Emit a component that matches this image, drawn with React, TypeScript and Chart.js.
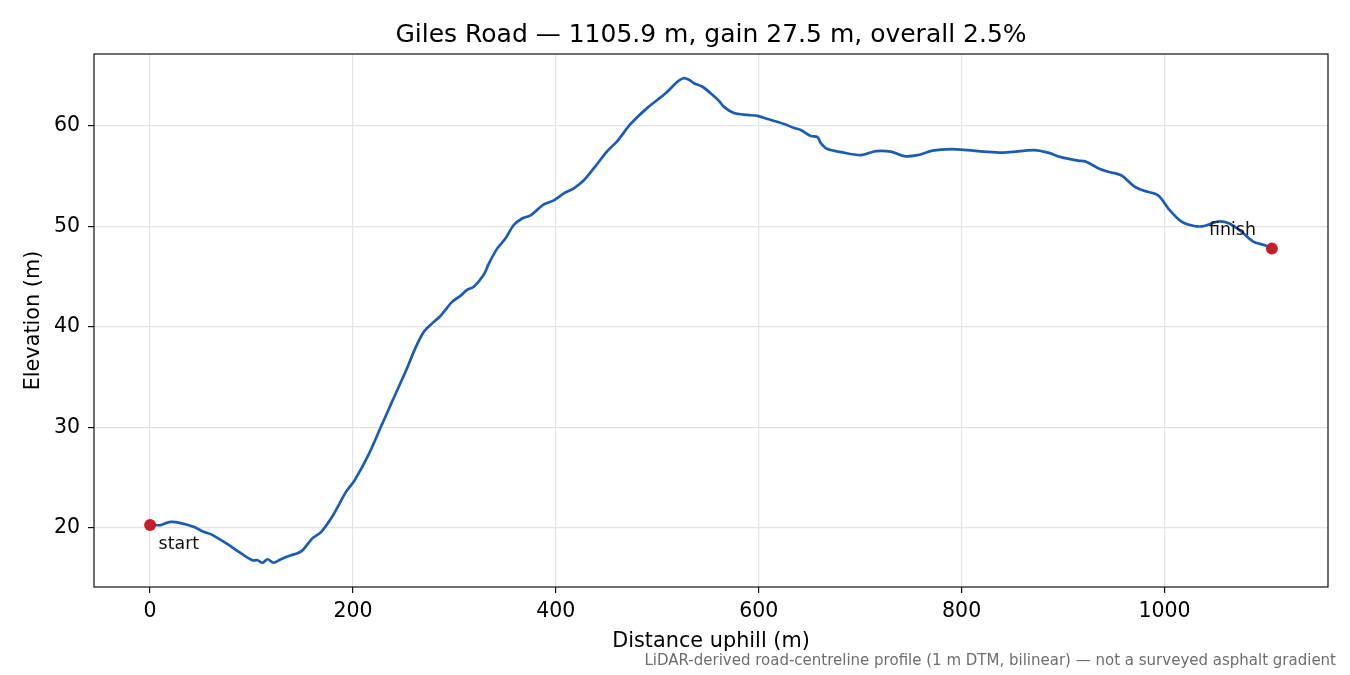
import { useEffect, useRef } from "react";
import { Chart, registerables, type ChartConfiguration, type Plugin } from "chart.js";

Chart.register(...registerables);

// distance along the road (m) and elevation (m)
const DIST = [
  0, 10.6, 18.8, 30.3, 43.4, 53.3, 59.9, 76.3, 89.5, 101,
  105.9, 110.8, 115.8, 121.7, 129, 138.9, 145.4, 150.3, 160.2, 168.5,
  179.9, 193.1, 201.3, 214.4, 227.7, 239.1, 253.3, 261.5, 269.7, 276.3,
  286.2, 297.7, 305.9, 312.5, 319.1, 328.9, 333.9, 342.1, 350.3, 358.5,
  366.8, 375, 388.1, 398, 407.9, 417.7, 427.6, 437.5, 450.7, 460.6,
  473.7, 490.2, 508.2, 519.8, 525.7, 531.2, 536.2, 544.5, 552.6, 560.8,
  565.8, 575.6, 588.9, 598.7, 608.6, 625, 634.9, 641.5, 651.3, 658,
  661.2, 667.8, 680.9, 700.7, 715.5, 730.3, 743.4, 756.6, 771.4, 789.5,
  806, 822, 841.8, 871.4, 885.2, 898, 914.8, 922.7, 934.6, 944.4,
  957.3, 970.1, 980, 993.8, 1003.7, 1016.5, 1029.3, 1039.2, 1053, 1063.9,
  1075.7, 1087.5, 1098.4, 1105.9,
];

const ELEV = [
  20.3, 20.3, 20.6, 20.5, 20.1, 19.6, 19.4, 18.4, 17.5, 16.8,
  16.8, 16.55, 16.9, 16.55, 16.9, 17.3, 17.5, 17.8, 19.0, 19.6,
  21.2, 23.6, 24.7, 27.1, 30.1, 32.7, 35.9, 37.9, 39.5, 40.2,
  41.1, 42.5, 43.1, 43.7, 44.0, 45.2, 46.3, 47.8, 48.8, 50.15,
  50.8, 51.1, 52.2, 52.6, 53.3, 53.8, 54.6, 55.8, 57.5, 58.5,
  60.2, 61.8, 63.25, 64.4, 64.75, 64.6, 64.25, 63.9, 63.25, 62.5,
  61.9, 61.3, 61.1, 61.0, 60.7, 60.2, 59.8, 59.6, 59.0, 58.9,
  58.3, 57.7, 57.4, 57.1, 57.5, 57.45, 57.0, 57.1, 57.55, 57.7,
  57.6, 57.45, 57.35, 57.6, 57.35, 56.9, 56.55, 56.45, 55.8, 55.45,
  55.1, 54.0, 53.55, 53.1, 51.8, 50.5, 50.05, 50.05, 50.5, 50.3,
  49.5, 48.5, 48.15, 47.8,
];

const X_TICKS = [0, 200, 400, 600, 800, 1000];
const Y_TICKS = [20, 30, 40, 50, 60];
const END_LABELS = ["start", "finish"];

const TITLE = "Giles Road \u2014 1105.9 m, gain 27.5 m, overall 2.5%";
const X_TITLE = "Distance uphill (m)";
const Y_TITLE = "Elevation (m)";
const NOTE = "LiDAR-derived road-centreline profile (1 m DTM, bilinear) \u2014 not a surveyed asphalt gradient";

const FONT = "'DejaVu Sans', sans-serif";
const LINE = "#1c5db4";
const DOT = "#c41e2a";
const GRID = "#e3e3e3";
const INK = "#111111";

const decorations: Plugin<"line"> = {
  id: "decorations",
  afterDraw(chart) {
    const { ctx, chartArea: a, scales } = chart;
    const x = scales.x;
    const y = scales.y;
    ctx.save();

    // frame (all four spines)
    ctx.strokeStyle = INK;
    ctx.lineWidth = 1.2;
    ctx.strokeRect(a.left, a.top, a.right - a.left, a.bottom - a.top);

    // title
    ctx.fillStyle = "#000";
    ctx.font = `25px ${FONT}`;
    ctx.textAlign = "center";
    ctx.textBaseline = "alphabetic";
    ctx.fillText(TITLE, (a.left + a.right) / 2, 42);

    // start / finish labels beside the markers
    const last = DIST.length - 1;
    ctx.font = `17.4px ${FONT}`;
    ctx.fillStyle = "#111";
    ctx.textAlign = "left";
    ctx.fillText(END_LABELS[0], x.getPixelForValue(DIST[0]) + 8.5, y.getPixelForValue(ELEV[0]) + 24);
    ctx.textAlign = "right";
    ctx.fillText(END_LABELS[1], x.getPixelForValue(DIST[last]) - 16, y.getPixelForValue(ELEV[last]) - 13.5);

    // footnote
    ctx.font = `15px ${FONT}`;
    ctx.fillStyle = "#6e6e6e";
    ctx.textAlign = "right";
    ctx.fillText(NOTE, 1336, 665);
    ctx.restore();
  },
};

export default function App() {
  const canvasRef = useRef<HTMLCanvasElement>(null);
  const chartRef = useRef<Chart | null>(null);

  useEffect(() => {
    const ctx = canvasRef.current?.getContext("2d");
    if (!ctx) return;
    chartRef.current?.destroy();

    const last = DIST.length - 1;
    const tickFont = { family: FONT, size: 20.5 };
    const titleFont = { family: FONT, size: 20.8 };

    const config: ChartConfiguration<"line"> = {
      type: "line",
      data: {
        datasets: [
          {
            label: "ends",
            data: [
              { x: DIST[0], y: ELEV[0] },
              { x: DIST[last], y: ELEV[last] },
            ],
            showLine: false,
            pointRadius: 6,
            pointBackgroundColor: DOT,
            pointBorderWidth: 0,
            order: 0,
          },
          {
            label: "profile",
            data: DIST.map((d, i) => ({ x: d, y: ELEV[i] })),
            borderColor: LINE,
            borderWidth: 2.7,
            pointRadius: 0,
            tension: 0.3,
            fill: false,
            order: 1,
          },
        ],
      },
      options: {
        responsive: false,
        animation: false,
        devicePixelRatio: 1,
        layout: { padding: { top: 54, right: 22, left: 0, bottom: 0 } },
        plugins: {
          legend: { display: false },
          tooltip: { enabled: false },
          title: { display: false },
        },
        scales: {
          x: {
            type: "linear",
            min: -55.3,
            max: 1161.2,
            afterBuildTicks: (s) => {
              s.ticks = X_TICKS.map((v) => ({ value: v }));
            },
            afterFit: (s) => {
              s.height = 88;
            },
            ticks: {
              color: "#000",
              font: tickFont,
              padding: 6,
              maxRotation: 0,
              autoSkip: false,
              callback: (v) => String(v),
            },
            grid: { color: GRID, lineWidth: 1.2, tickColor: INK, tickLength: 6 },
            border: { display: false },
            title: {
              display: true,
              text: X_TITLE,
              color: "#000",
              font: titleFont,
              padding: { top: 0, bottom: 21 },
            },
          },
          y: {
            type: "linear",
            min: 14.14,
            max: 67.16,
            afterBuildTicks: (s) => {
              s.ticks = Y_TICKS.map((v) => ({ value: v }));
            },
            afterFit: (s) => {
              s.width = 94;
            },
            ticks: {
              color: "#000",
              font: tickFont,
              padding: 8,
              autoSkip: false,
              callback: (v) => String(v),
            },
            grid: { color: GRID, lineWidth: 1.2, tickColor: INK, tickLength: 6 },
            border: { display: false },
            title: {
              display: true,
              text: Y_TITLE,
              color: "#000",
              font: titleFont,
              padding: { top: 21.5, bottom: 0 },
            },
          },
        },
      },
      plugins: [decorations],
    };

    chartRef.current = new Chart(ctx, config);
    return () => chartRef.current?.destroy();
  }, []);

  return (
    <div style={{ position: "fixed", left: 0, top: 0, width: 1350, height: 675, background: "#fff" }}>
      <canvas ref={canvasRef} width={1350} height={675} style={{ width: 1350, height: 675, display: "block" }} />
    </div>
  );
}
